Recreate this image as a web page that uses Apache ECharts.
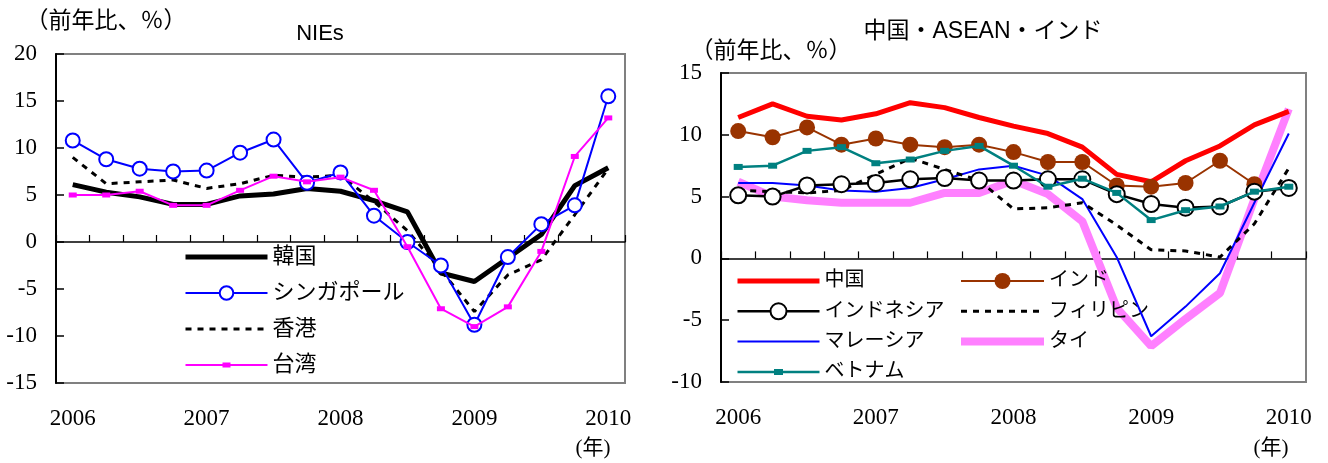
<!DOCTYPE html>
<html>
<head>
<meta charset="utf-8">
<script src="https://cdn.jsdelivr.net/npm/echarts@6/dist/echarts.min.js"></script>
<style>
  html, body { margin: 0; padding: 0; background: #fff; }
  #chart { width: 1328px; height: 463px; }
</style>
</head>
<body>
<div id="chart"></div>
<script>
// Quarterly real GDP growth (year-on-year, %), 2006Q1 - 2010Q1
const quarters = ['2006Q1','2006Q2','2006Q3','2006Q4','2007Q1','2007Q2','2007Q3','2007Q4',
                  '2008Q1','2008Q2','2008Q3','2008Q4','2009Q1','2009Q2','2009Q3','2009Q4','2010Q1'];

// NIEs
const korea     = [6.1, 5.3, 4.8, 4.0, 4.0, 4.9, 5.1, 5.7, 5.4, 4.4, 3.2, -3.3, -4.2, -1.7, 0.8, 6.0, 7.9];
const singapore = [10.8, 8.8, 7.8, 7.5, 7.6, 9.5, 10.9, 6.3, 7.4, 2.8, 0.0, -2.5, -8.8, -1.6, 1.9, 3.9, 15.5];
const hongkong  = [9.0, 6.2, 6.4, 6.6, 5.7, 6.2, 7.1, 6.9, 7.1, 4.3, 1.2, -3.0, -7.4, -3.5, -1.9, 2.9, 7.8];
const taiwan    = [5.0, 5.0, 5.4, 3.9, 3.9, 5.5, 7.0, 6.4, 6.9, 5.5, -0.5, -7.1, -9.0, -6.9, -1.0, 9.1, 13.2];

// China, ASEAN, India
const china       = [11.4, 12.5, 11.5, 11.2, 11.7, 12.6, 12.2, 11.4, 10.7, 10.1, 9.0, 6.8, 6.2, 7.9, 9.1, 10.8, 11.9];
const india       = [10.3, 9.8, 10.6, 9.2, 9.7, 9.2, 9.0, 9.2, 8.6, 7.8, 7.8, 5.9, 5.8, 6.1, 7.9, 6.0, null];
const indonesia   = [5.1, 5.0, 5.9, 6.0, 6.1, 6.4, 6.5, 6.3, 6.3, 6.4, 6.4, 5.2, 4.4, 4.1, 4.2, 5.4, 5.7];
const philippines = [5.5, 5.4, 5.3, 5.5, 6.8, 8.1, 7.2, 6.3, 4.0, 4.1, 4.5, 2.7, 0.7, 0.6, 0.1, 2.8, 7.3];
const malaysia    = [6.1, 6.1, 5.9, 5.5, 5.4, 5.7, 6.4, 7.2, 7.5, 6.7, 4.8, 0.1, -6.3, -3.9, -1.2, 4.5, 10.1];
const thailand    = [6.2, 5.0, 4.7, 4.5, 4.5, 4.5, 5.3, 5.3, 6.3, 5.2, 3.0, -4.0, -7.1, -4.9, -2.8, 4.8, 12.1];
const vietnam     = [7.4, 7.5, 8.7, 9.0, 7.7, 8.0, 8.7, 9.1, 7.5, 5.8, 6.45, 5.3, 3.1, 3.9, 4.2, 5.4, 5.8];

const SERIF = "'Liberation Serif', 'Noto Sans CJK JP', serif";
const SANS = "'Liberation Sans', 'Noto Sans CJK JP', sans-serif";

function yAxisFor(gridIndex, min, max) {
  return {
    type: 'value', gridIndex, min, max, interval: 5,
    axisLine: { show: true, lineStyle: { color: '#000', width: 2 } },
    axisTick: { show: true, inside: true, length: 8, lineStyle: { color: '#000', width: 1.5 } },
    axisLabel: { color: '#000', fontSize: 23, fontFamily: SERIF, margin: 19 },
    splitLine: { show: false }
  };
}
function zeroAxis(gridIndex) {
  return {
    type: 'category', gridIndex, data: quarters, boundaryGap: true, position: 'bottom',
    axisLine: { show: true, onZero: true, lineStyle: { color: '#000', width: 1.5 } },
    axisTick: { show: true, inside: true, length: 7, interval: 0, lineStyle: { color: '#000', width: 1.2 } },
    axisLabel: { show: false },
    splitLine: { show: false }
  };
}
function yearAxis(gridIndex) {
  return {
    type: 'category', gridIndex, data: quarters, boundaryGap: true, position: 'bottom',
    axisLine: { show: false, onZero: false },
    axisTick: { show: false },
    axisLabel: {
      interval: 3, margin: 24, color: '#000', fontSize: 23, fontFamily: SERIF,
      formatter: v => v.slice(0, 4)
    },
    splitLine: { show: false }
  };
}

function line(name, data, axisIdx, opts) {
  return Object.assign({
    name, type: 'line', data,
    xAxisIndex: axisIdx, yAxisIndex: axisIdx / 2,
    symbol: 'none', connectNulls: false, animation: false
  }, opts);
}

const hideMark = { opacity: 0 };

const option = {
  animation: false,
  backgroundColor: '#fff',
  grid: [
    { left: 56, top: 54, width: 569, height: 329, show: true, borderColor: '#808080', borderWidth: 2, containLabel: false },
    { left: 721, top: 73, width: 585, height: 309, show: true, borderColor: '#808080', borderWidth: 2, containLabel: false }
  ],
  xAxis: [zeroAxis(0), yearAxis(0), zeroAxis(1), yearAxis(1)],
  yAxis: [yAxisFor(0, -15, 20), yAxisFor(1, -10, 15)],
  legend: [
    {
      orient: 'vertical', left: 178, top: 241, itemWidth: 82, itemHeight: 17, itemGap: 14,
      lineStyle: { width: 'inherit' },
      textStyle: { fontSize: 22, fontFamily: SERIF, color: '#000' },
      data: [
        { name: '韓国', itemStyle: hideMark },
        { name: 'シンガポール' },
        { name: '香港', itemStyle: hideMark },
        { name: '台湾', icon: 'path://M0,1.5h82v2H0z M37,0h8v5h-8z' }
      ]
    },
    {
      orient: 'vertical', left: 730, top: 266, itemWidth: 82, itemHeight: 20, itemGap: 10.3,
      lineStyle: { width: 'inherit' },
      textStyle: { fontSize: 20, fontFamily: SERIF, color: '#000' },
      data: [
        { name: '中国', itemStyle: hideMark },
        { name: 'インドネシア' },
        { name: 'マレーシア', itemStyle: hideMark },
        { name: 'ベトナム', icon: 'path://M0,1.75h82v2.5H0z M36.5,0h9v6h-9z' }
      ]
    },
    {
      orient: 'vertical', left: 952, top: 266, itemWidth: 83, itemHeight: 20, itemGap: 10.3,
      lineStyle: { width: 'inherit' },
      textStyle: { fontSize: 20, fontFamily: SERIF, color: '#000' },
      data: [
        { name: 'インド' },
        { name: 'フィリピン', itemStyle: hideMark },
        { name: 'タイ', itemStyle: hideMark }
      ]
    }
  ],
  graphic: [
    { type: 'text', x: 320, y: 34, style: { text: 'NIEs', font: "22px 'Liberation Sans', sans-serif", fill: '#000', textAlign: 'center', textVerticalAlign: 'middle' } },
    { type: 'text', x: 983, y: 32, style: { text: '中国・ASEAN・インド', font: "23px " + SANS, fill: '#000', textAlign: 'center', textVerticalAlign: 'middle' } },
    { type: 'text', x: 106, y: 22, style: { text: '（前年比、％）', font: "23px " + SERIF, fill: '#000', textAlign: 'center', textVerticalAlign: 'middle' } },
    { type: 'text', x: 771, y: 52, style: { text: '（前年比、％）', font: "23px " + SERIF, fill: '#000', textAlign: 'center', textVerticalAlign: 'middle' } },
    { type: 'text', x: 593, y: 448, style: { text: '(年)', font: "21px " + SERIF, fill: '#000', textAlign: 'center', textVerticalAlign: 'middle' } },
    { type: 'text', x: 1271, y: 448, style: { text: '(年)', font: "21px " + SERIF, fill: '#000', textAlign: 'center', textVerticalAlign: 'middle' } }
  ],
  series: [
    // NIEs panel
    line('韓国', korea, 0, { z: 2, lineStyle: { color: '#000', width: 5 }, itemStyle: { color: '#000' } }),
    line('香港', hongkong, 0, { z: 3, lineStyle: { color: '#000', width: 3, type: [6, 6] }, itemStyle: { color: '#000' } }),
    line('シンガポール', singapore, 0, {
      z: 4, symbol: 'emptyCircle', symbolSize: 14, showSymbol: true,
      lineStyle: { color: '#0000ff', width: 2 }, itemStyle: { color: '#0000ff', borderWidth: 2 }
    }),
    line('台湾', taiwan, 0, {
      z: 5, symbol: 'rect', symbolSize: [8, 5], showSymbol: true,
      lineStyle: { color: '#ff00ff', width: 2 }, itemStyle: { color: '#ff00ff' }
    }),
    // China / ASEAN / India panel
    line('タイ', thailand, 2, { z: 2, lineStyle: { color: '#ff80ff', width: 8 }, itemStyle: { color: '#ff80ff' } }),
    line('中国', china, 2, { z: 3, lineStyle: { color: '#ff0000', width: 5 }, itemStyle: { color: '#ff0000' } }),
    line('インド', india, 2, {
      z: 4, symbol: 'circle', symbolSize: 16, showSymbol: true,
      lineStyle: { color: '#993300', width: 2 }, itemStyle: { color: '#993300' }
    }),
    line('マレーシア', malaysia, 2, { z: 4, lineStyle: { color: '#0000ff', width: 2 }, itemStyle: { color: '#0000ff' } }),
    line('フィリピン', philippines, 2, { z: 4, lineStyle: { color: '#000', width: 3, type: [6, 6] }, itemStyle: { color: '#000' } }),
    line('インドネシア', indonesia, 2, {
      z: 5, symbol: 'emptyCircle', symbolSize: 16, showSymbol: true,
      lineStyle: { color: '#000', width: 2.5 }, itemStyle: { color: '#000', borderWidth: 2.5 }
    }),
    line('ベトナム', vietnam, 2, {
      z: 6, symbol: 'rect', symbolSize: [9, 6], showSymbol: true,
      lineStyle: { color: '#008080', width: 2.5 }, itemStyle: { color: '#008080' }
    })
  ]
};

const chart = echarts.init(document.getElementById('chart'), null, { renderer: 'canvas' });
chart.setOption(option);
</script>
</body>
</html>
